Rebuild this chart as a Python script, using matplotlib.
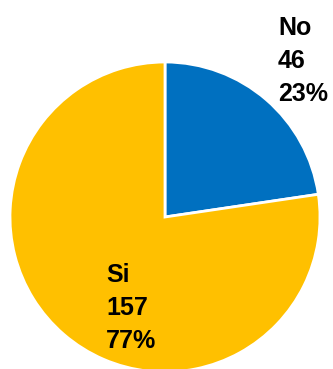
import matplotlib
matplotlib.use("Agg")
import matplotlib.pyplot as plt

categories = ["No", "Si"]
counts = [46, 157]
colors = ["#0070C0", "#FFC000"]

W, H = 333, 369
fig = plt.figure(figsize=(W / 100, H / 100), dpi=100)
ax = fig.add_axes([0, 0, 1, 1])

ax.pie(counts, colors=colors, startangle=90, counterclock=False,
       center=(165, H - 217), radius=155, frame=True,
       wedgeprops=dict(edgecolor="white", linewidth=2))
ax.set_xlim(0, W)
ax.set_ylim(0, H)
ax.axis("off")

total = sum(counts)
label_pos = {"No": (278, 35), "Si": (106, 282)}
for cat, c in zip(categories, counts):
    x, y = label_pos[cat]
    lines = [cat, str(c), f"{round(100 * c / total)}%"]
    for i, t in enumerate(lines):
        ax.text(x, H - (y + 33 * i), t, ha="left", va="baseline",
                fontsize=18, fontweight="bold", family="Liberation Sans",
                color="black")

fig.savefig("out.png", dpi=100)
